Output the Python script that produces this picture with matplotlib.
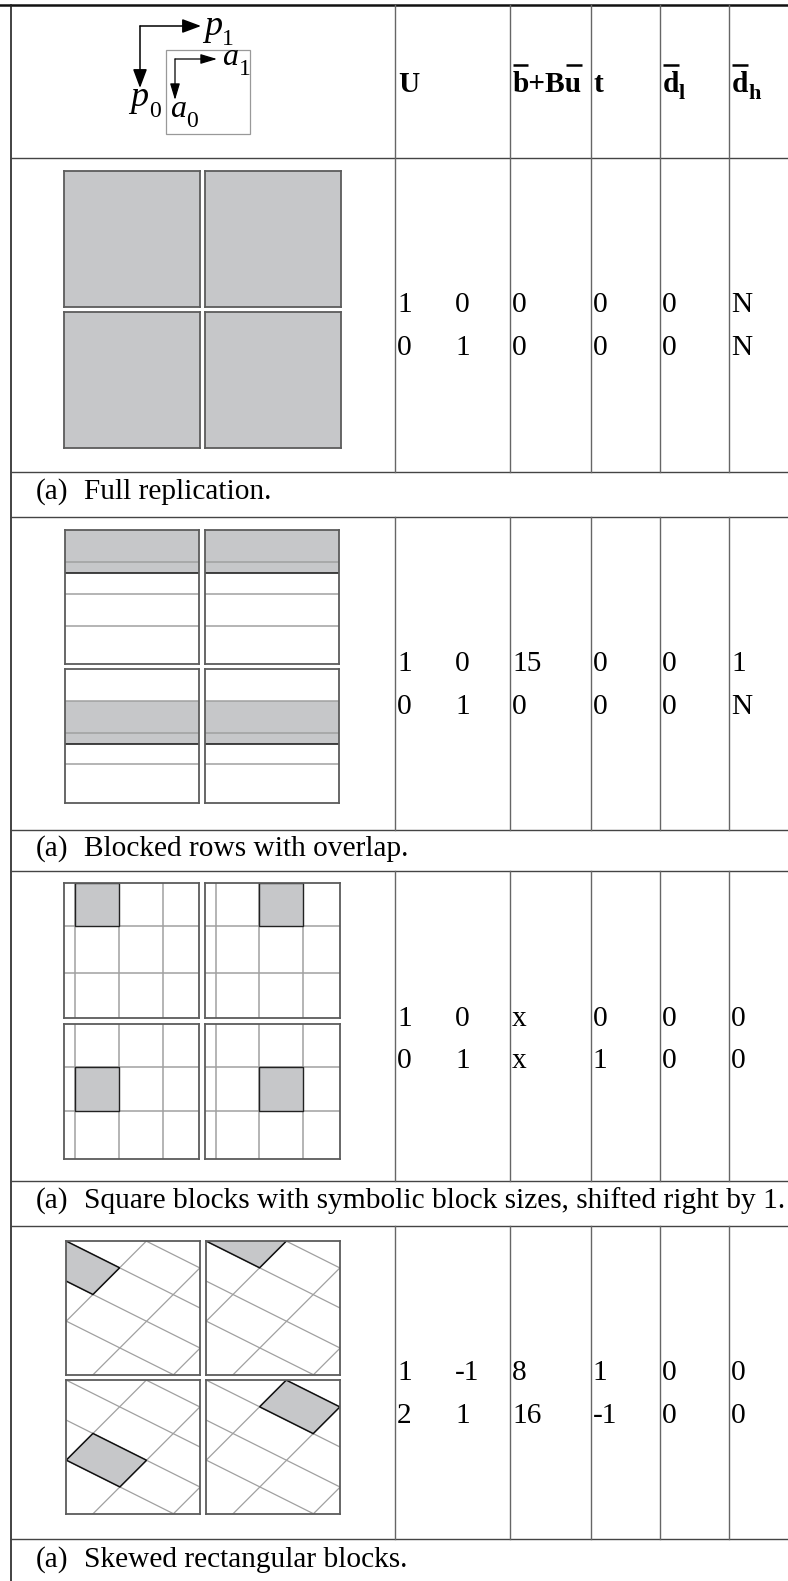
#! /usr/bin/env python

# Table of data layouts: partition diagrams, U, b+Bu, t, dl, dh columns

import matplotlib
matplotlib.use('Agg')
import matplotlib.pyplot as plt
from matplotlib.patches import Rectangle, Polygon

plt.rcParams['font.family'] = ['Liberation Serif', 'DejaVu Serif']

# ----- Table contents --------------------------------------------------------
captions = ['Full replication.',
            'Blocked rows with overlap.',
            'Square blocks with symbolic block sizes, shifted right by 1.',
            'Skewed rectangular blocks.']
caption_tag = '(a)'

u_col0 = [['1', '0'], ['1', '0'], ['1', '0'], ['1', '2']]
u_col1 = [['0', '1'], ['0', '1'], ['0', '1'], ['-1', '1']]
offsets = [['0', '0'], ['15', '0'], ['x', 'x'], ['8', '16']]
t_vals = [['0', '0'], ['0', '0'], ['0', '1'], ['1', '-1']]
dl_vals = [['0', '0'], ['0', '0'], ['0', '0'], ['0', '0']]
dh_vals = [['N', 'N'], ['1', 'N'], ['0', '0'], ['0', '0']]

# Tile contents, as fractions of a tile: top-left, top-right, bottom-left, bottom-right
block_hlines = [[0.24, 0.48, 0.715], [0.24, 0.48, 0.715], [0.24, 0.48, 0.71], [0.24, 0.48, 0.71]]
block_bands = [(0, 0.318), (0, 0.318), (0.24, 0.56), (0.24, 0.56)]

square_vlines = [[0.082, 0.407, 0.733], [0.081, 0.40, 0.725], [0.082, 0.407, 0.733], [0.081, 0.40, 0.725]]
square_hlines = [[0.32, 0.67], [0.32, 0.67], [0.32, 0.645], [0.32, 0.645]]
square_cells = [(0.082, 0.407, 0, 0.32), (0.40, 0.725, 0, 0.32),
                (0.082, 0.407, 0.32, 0.645), (0.40, 0.725, 0.32, 0.645)]

skew_down = [-0.2985, 0, 0.2985, 0.597]     # y = b + x/2
skew_up = [0.6, 1.2, 1.8]                   # y = c - x
skew_cells = [(0, 0.2985, 0, 0.6), (-0.2985, 0, 0, 0.6),
              (0.2985, 0.597, 0.6, 1.2), (-0.2985, 0, 0.6, 1.2)]

# ----- Layout, in pixels ------------------------------------------------------
W, H = 788, 1581
fs = 21.2
rules = [158, 472, 517, 830, 871, 1181, 1226, 1539]
data_spans = [(5, 472), (517, 830), (871, 1181), (1226, 1539)]
col_rules = [395, 510, 591, 660, 729]
left_rule = 11
caption_y = [499, 856, 1208, 1567]
baselines = [(312, 355), (671, 714), (1026, 1068), (1380, 1423)]
col_x = [397, 455, 512, 592.5, 662, 731]
tile_x = [(64, 205), (65, 205), (64, 205), (66, 206)]
tile_y = [(171, 312), (530, 669), (883, 1024), (1241, 1380)]
tile_size = [136, 134, 135, 134]

SHADE = '#c6c7c9'
FRAME = '#5c5c5c'
GRID = '#a0a0a0'

fig = plt.figure(figsize=(W / 100, H / 100), dpi=100)
ax = fig.add_axes([0, 0, 1, 1])
ax.set_xlim(0, W)
ax.set_ylim(H, 0)
ax.axis('off')


def txt(x, y, s, size=fs, **kw):
    ax.text(x, y, s, fontsize=size, va='baseline', ha=kw.pop('ha', 'left'), color='k', **kw)


def make_tile(x, y, size):
    t = fig.add_axes([x / W, 1 - (y + size) / H, size / W, size / H])
    t.set_xlim(0, 1)
    t.set_ylim(1, 0)
    t.set_xticks([])
    t.set_yticks([])
    for s in t.spines.values():
        s.set_color(FRAME)
        s.set_linewidth(1.3)
        s.set_zorder(5)
    return t


def tiles_for(row):
    size = tile_size[row]
    out = []
    for y in tile_y[row]:
        for x in tile_x[row]:
            out.append(make_tile(x, y, size))
    return out


# ----- Rules ------------------------------------------------------------------
ax.plot([0, W], [5, 5], color='#111111', lw=1.8)
ax.plot([left_rule, left_rule], [5, H], color='#222222', lw=1.2)
for y in rules:
    ax.plot([left_rule, W], [y, y], color='#444444', lw=1.0)
for top, bottom in data_spans:
    for x in col_rules:
        ax.plot([x, x], [top, bottom], color='#666666', lw=1.0)

# ----- Header -----------------------------------------------------------------
for tip in [(201, 26), (140, 88)]:
    ax.annotate('', xy=tip, xytext=(140, 26),
                arrowprops=dict(arrowstyle='-|>,head_length=1.15,head_width=0.43', mutation_scale=10,
                                shrinkA=0, shrinkB=0, color='k', lw=1.1))
for tip in [(217, 59), (175, 100)]:
    ax.annotate('', xy=tip, xytext=(175, 59),
                arrowprops=dict(arrowstyle='-|>,head_length=1.0,head_width=0.3', mutation_scale=10,
                                shrinkA=0, shrinkB=0, color='k', lw=0.9))
ax.add_patch(Rectangle((166, 50), 84, 84, fill=False, ec='#999999', lw=0.9))

txt(204, 35, 'p', size=26, style='italic')
txt(222, 45, '1', size=17)
txt(130, 106, 'p', size=26, style='italic')
txt(149, 117, '0', size=17)
txt(222, 65, 'a', size=23, style='italic')
txt(239, 75, '1', size=17)
txt(170, 117, 'a', size=23, style='italic')
txt(186, 127, '0', size=17)

txt(398, 92, 'U', weight='bold')
txt(513, 92, 'b+Bu', weight='bold')
txt(594, 92, 't', weight='bold')
txt(663, 92, 'd', weight='bold')
txt(679, 99, 'l', weight='bold', size=16)
txt(732, 92, 'd', weight='bold')
txt(748, 99, 'h', weight='bold', size=16)
for x0, x1 in [(513, 528), (566, 582), (663, 679), (732, 748)]:
    ax.plot([x0, x1], [65, 65], color='k', lw=1.8, solid_capstyle='butt')

# ----- Cell text --------------------------------------------------------------
columns = [u_col0, u_col1, offsets, t_vals, dl_vals, dh_vals]
for i, (y0, y1) in enumerate(baselines):
    for x, col in zip(col_x, columns):
        txt(x, y0, col[i][0])
        txt(x, y1, col[i][1])

for y, cap in zip(caption_y, captions):
    txt(36, y, caption_tag)
    txt(84, y, cap)

# ----- Row 1: full replication ------------------------------------------------
for t in tiles_for(0):
    t.set_facecolor(SHADE)

# ----- Row 2: blocked rows ----------------------------------------------------
for t, lines, band in zip(tiles_for(1), block_hlines, block_bands):
    t.add_patch(Rectangle((0, band[0]), 1, band[1] - band[0], fc=SHADE, ec='none'))
    t.hlines(band[1], 0, 1, color='#222222', lw=1.2)
    t.hlines(lines, 0, 1, color=GRID, lw=1.1)

# ----- Row 3: square blocks ---------------------------------------------------
for t, vl, hl, c in zip(tiles_for(2), square_vlines, square_hlines, square_cells):
    t.vlines(vl, 0, 1, color=GRID, lw=1.1)
    t.hlines(hl, 0, 1, color=GRID, lw=1.1)
    t.add_patch(Rectangle((c[0], c[2]), c[1] - c[0], c[3] - c[2], fc=SHADE, ec='#222222', lw=1.0, zorder=3))


# ----- Row 4: skewed blocks ---------------------------------------------------
def corner(b, c):
    x = (c - b) / 1.5
    return (x, b + x / 2)


for t, c in zip(tiles_for(3), skew_cells):
    for b in skew_down:
        t.plot([0, 1], [b, b + 0.5], color=GRID, lw=0.9)
    for k in skew_up:
        t.plot([0, 1], [k, k - 1], color=GRID, lw=0.9)
    b0, b1, c0, c1 = c
    t.add_patch(Polygon([corner(b0, c0), corner(b0, c1), corner(b1, c1), corner(b1, c0)],
                        closed=True, fc=SHADE, ec='#111111', lw=1.1, zorder=3))

fig.savefig('out.png', dpi=100)
